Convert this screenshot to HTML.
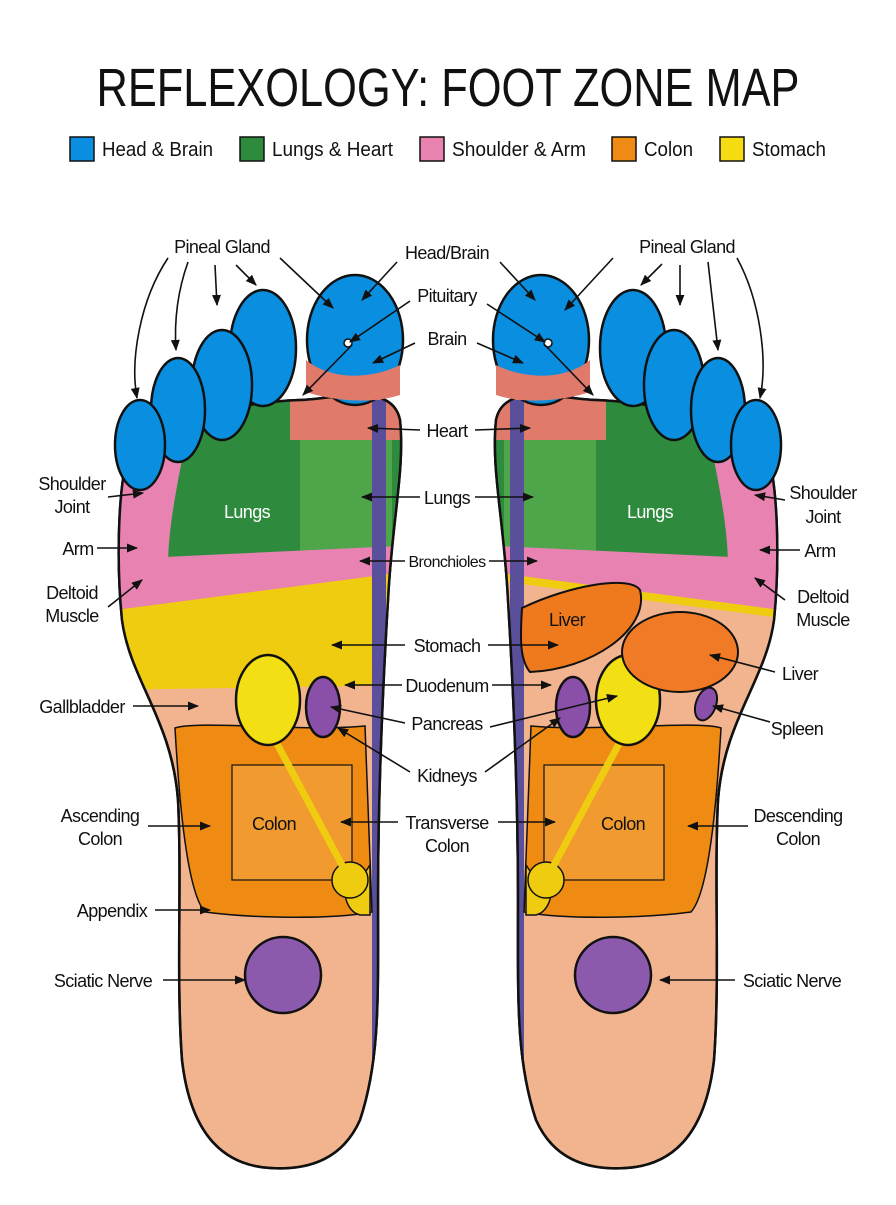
<!DOCTYPE html>
<html><head><meta charset="utf-8"><style>
body{margin:0;background:#fff;width:896px;height:1200px;overflow:hidden}
svg text{font-family:"Liberation Sans",sans-serif;fill:#111}
</style></head><body>
<svg width="896" height="1200" viewBox="0 0 896 1200" xmlns="http://www.w3.org/2000/svg">
<defs>
<marker id="a" viewBox="0 0 10 10" refX="9" refY="5" markerWidth="7" markerHeight="7" orient="auto-start-reverse"><path d="M0,1 L10,5 L0,9 z" fill="#111"/></marker>
<clipPath id="fc"><path id="fp" d="M300,400 C330,400 392,380 400,420 C405,470 392,520 388,600 C382,700 378,800 378,900 C378,1000 380,1060 360,1120 C340,1165 300,1170 270,1168 C220,1165 190,1130 182,1060 C176,980 182,880 178,800 C172,720 130,680 122,620 C116,560 118,480 130,450 C170,420 240,402 300,400 Z"/></clipPath>
<g id="base" stroke="#111" stroke-width="2.5">
<use href="#fp" fill="#f2b48f"/>
<g clip-path="url(#fc)" stroke="none">
<rect x="100" y="400" width="320" height="180" fill="#2e8b3e"/>
<path d="M300,410 C330,420 350,420 392,430 L392,590 L300,590 Z" fill="#4fa64a"/>
<rect x="290" y="390" width="120" height="50" fill="#e07a6a"/>
<path d="M100,440 L182,460 C170,520 165,560 170,590 L100,620 Z" fill="#e882b0"/>
<path d="M100,560 L420,545 L420,575 L100,620 Z" fill="#e882b0"/>
<path d="M100,612 L420,570 L420,685 L100,690 Z" fill="#f0cc10"/>
</g>
</g>
<g id="top" stroke="#111" stroke-width="2.5">
<g clip-path="url(#fc)" stroke="none">
<rect x="372" y="400" width="14" height="760" fill="#5a4f9a"/>
</g>
<use href="#fp" fill="none"/>
<path d="M175,728 C200,720 300,732 365,726 L372,912 C330,920 250,918 205,912 C185,890 178,780 175,728 Z" fill="#ef8a12" stroke-width="1.5"/>
<rect x="232" y="765" width="120" height="115" fill="#f09a30" stroke-width="1.2"/>
<path d="M360,880 C340,870 340,910 360,915 L370,915 L370,865 Z" fill="#f0cc10" stroke-width="1.5"/>
<circle cx="350" cy="880" r="18" fill="#f0cc10" stroke-width="1.5"/>
<path d="M275,740 L350,880" stroke="#f0cc10" stroke-width="7"/>
<ellipse cx="268" cy="700" rx="32" ry="45" fill="#f2e014"/>
<ellipse cx="323" cy="707" rx="17" ry="30" fill="#8a4fa8"/>
<circle cx="283" cy="975" r="38" fill="#8c5aad"/>
<ellipse cx="355" cy="340" rx="48" ry="65" fill="#0a8ee0"/>
<ellipse cx="263" cy="348" rx="33" ry="58" fill="#0a8ee0"/>
<ellipse cx="222" cy="385" rx="30" ry="55" fill="#0a8ee0"/>
<ellipse cx="178" cy="410" rx="27" ry="52" fill="#0a8ee0"/>
<ellipse cx="140" cy="445" rx="25" ry="45" fill="#0a8ee0"/>
<path d="M306,360 C330,380 370,380 400,365 L400,395 C370,405 330,400 306,392Z" fill="#e07a6a" stroke="none"/>
<circle cx="348" cy="343" r="4" fill="#fff" stroke-width="1.5"/>
</g>
</defs>

<text x="448" y="106" font-size="54" text-anchor="middle" textLength="703" lengthAdjust="spacingAndGlyphs">REFLEXOLOGY: FOOT ZONE MAP</text>
<g font-size="20">
<rect x="70" y="137" width="24" height="24" fill="#0a8ee0" stroke="#111" stroke-width="1.5"/><text x="102" y="156" textLength="111" lengthAdjust="spacingAndGlyphs">Head &amp; Brain</text>
<rect x="240" y="137" width="24" height="24" fill="#2e8b3e" stroke="#111" stroke-width="1.5"/><text x="272" y="156" textLength="121" lengthAdjust="spacingAndGlyphs">Lungs &amp; Heart</text>
<rect x="420" y="137" width="24" height="24" fill="#e882b0" stroke="#111" stroke-width="1.5"/><text x="452" y="156" textLength="134" lengthAdjust="spacingAndGlyphs">Shoulder &amp; Arm</text>
<rect x="612" y="137" width="24" height="24" fill="#ef8a12" stroke="#111" stroke-width="1.5"/><text x="644" y="156" textLength="49" lengthAdjust="spacingAndGlyphs">Colon</text>
<rect x="720" y="137" width="24" height="24" fill="#f5dc10" stroke="#111" stroke-width="1.5"/><text x="752" y="156" textLength="74" lengthAdjust="spacingAndGlyphs">Stomach</text>
</g>

<use href="#base"/>
<use href="#top"/>
<g transform="translate(896,0) scale(-1,1)">
<use href="#base"/>
<path d="M100,620 L420,578 L420,700 L100,700 Z" fill="#f2b48f" clip-path="url(#fc)"/>
<use href="#top"/>
</g>
<g stroke="#111" stroke-width="2">
<path d="M522,608 C520,640 520,660 530,672 C590,670 650,630 640,590 C630,575 570,585 522,608Z" fill="#ef7a1e"/>
<ellipse cx="680" cy="652" rx="58" ry="40" fill="#f07a25"/>
<ellipse cx="706" cy="704" rx="10" ry="17" fill="#8a4fa8" transform="rotate(20 706 704)"/>
</g>

<g font-size="18" text-anchor="middle" letter-spacing="-0.6">
<text x="247" y="518" style="fill:#fff">Lungs</text>
<text x="650" y="518" style="fill:#fff">Lungs</text>
<text x="274" y="830">Colon</text>
<text x="623" y="830">Colon</text>
<text x="567" y="626">Liver</text>
<text x="222" y="253">Pineal Gland</text>
<text x="687" y="253">Pineal Gland</text>
<text x="447" y="259">Head/Brain</text>
<text x="447" y="302">Pituitary</text>
<text x="447" y="345">Brain</text>
<text x="447" y="437">Heart</text>
<text x="447" y="504">Lungs</text>
<text x="447" y="567" font-size="16">Bronchioles</text>
<text x="447" y="652">Stomach</text>
<text x="447" y="692">Duodenum</text>
<text x="447" y="730">Pancreas</text>
<text x="447" y="782">Kidneys</text>
<text x="447" y="829">Transverse</text>
<text x="447" y="852">Colon</text>
<text x="72" y="490">Shoulder</text><text x="72" y="513">Joint</text>
<text x="78" y="555">Arm</text>
<text x="72" y="599">Deltoid</text><text x="72" y="622">Muscle</text>
<text x="82" y="713">Gallbladder</text>
<text x="100" y="822">Ascending</text><text x="100" y="845">Colon</text>
<text x="112" y="917">Appendix</text>
<text x="103" y="987">Sciatic Nerve</text>
<text x="823" y="499">Shoulder</text><text x="823" y="523">Joint</text>
<text x="820" y="557">Arm</text>
<text x="823" y="603">Deltoid</text><text x="823" y="626">Muscle</text>
<text x="800" y="680">Liver</text>
<text x="797" y="735">Spleen</text>
<text x="798" y="822">Descending</text><text x="798" y="845">Colon</text>
<text x="792" y="987">Sciatic Nerve</text>
</g>
<g stroke="#111" stroke-width="1.6" fill="none" marker-end="url(#a)">
<path d="M168,258 C140,300 130,360 137,398"/>
<path d="M188,262 C178,290 174,320 176,350"/>
<path d="M215,265 L217,305"/>
<path d="M236,265 L256,285"/>
<path d="M280,258 L333,308"/>
<path d="M397,262 L362,300"/>
<path d="M410,301 L350,342"/>
<path d="M352,345 L303,395"/>
<path d="M415,343 L373,363"/>
<path d="M420,430 L368,428"/>
<path d="M420,497 L362,497"/>
<path d="M405,561 L360,561"/>
<path d="M405,645 L332,645"/>
<path d="M402,685 L345,685"/>
<path d="M405,723 L331,707"/>
<path d="M410,772 L338,728"/>
<path d="M398,822 L341,822"/>
<path d="M108,497 L143,493"/>
<path d="M97,548 L137,548"/>
<path d="M108,607 L142,580"/>
<path d="M133,706 L198,706"/>
<path d="M148,826 L210,826"/>
<path d="M155,910 L210,910"/>
<path d="M163,980 L245,980"/>
<path d="M475,430 L530,428"/>
<path d="M475,497 L533,497"/>
<path d="M489,561 L537,561"/>
<path d="M488,645 L558,645"/>
<path d="M492,685 L551,685"/>
<path d="M490,727 L617,696"/>
<path d="M485,772 L560,718"/>
<path d="M498,822 L555,822"/>
<path d="M500,262 L535,300"/>
<path d="M487,304 L545,342"/>
<path d="M545,345 L593,395"/>
<path d="M477,343 L523,363"/>
<path d="M613,258 L565,310"/>
<path d="M662,264 L641,285"/>
<path d="M680,265 L680,305"/>
<path d="M708,262 L718,350"/>
<path d="M737,258 C760,300 768,360 760,398"/>
<path d="M785,500 L755,495"/>
<path d="M800,550 L760,550"/>
<path d="M785,600 L755,578"/>
<path d="M775,672 L710,655"/>
<path d="M770,722 L713,706"/>
<path d="M748,826 L688,826"/>
<path d="M735,980 L660,980"/>
</g>
</svg>
</body></html>
